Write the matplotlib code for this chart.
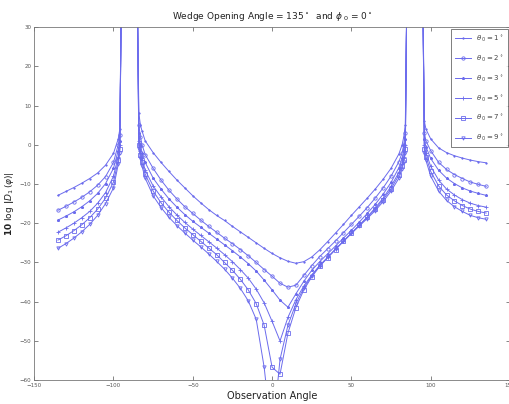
import numpy as np
import matplotlib
matplotlib.use("Agg")
import matplotlib.pyplot as plt

# observation angles (deg) for the three branches; +/-85 and +/-95 are the singular points
x_left = [-135, -130, -125, -120, -115, -110, -105, -100, -97, -96, -95]
x_mid = [-85, -84, -83, -82, -80, -75, -70, -65, -60, -55, -50, -45, -40, -35, -30, -25,
         -20, -15, -10, -5, 0, 5, 10, 15, 20, 25, 30, 35, 40, 45, 50, 55, 60, 65, 70,
         75, 80, 82, 83, 84, 85]
x_right = [95, 96, 97, 100, 105, 110, 115, 120, 125, 130, 135]

theta0 = [1, 2, 3, 5, 7, 9]
markers = ['.', 'o', '*', '+', 's', 'v']

left_vals = {
    1: [-12.9, -11.9, -10.9, -9.8, -8.6, -7.2, -5.2, -2.2, 1.5, 4, 40],
    2: [-16.7, -15.7, -14.6, -13.4, -12, -10.3, -8.1, -4.5, 0, 2.5, 40],
    3: [-19.2, -18.2, -17.1, -15.8, -14.3, -12.4, -9.9, -6, -1.5, 1, 40],
    5: [-22.3, -21.2, -20, -18.6, -17, -14.9, -12.2, -8, -3, 0, 40],
    7: [-24.3, -23.2, -21.9, -20.4, -18.6, -16.4, -13.6, -9.5, -4, -1, 40],
    9: [-26.4, -25.2, -23.8, -22.2, -20.3, -18, -15, -11, -5, -2, 40],
}

mid_vals = {
    1: [40, 8, 5, 3.5, 1, -2, -4.5, -6.8, -9, -11, -13, -14.8, -16.5, -18, -19.3, -20.8,
        -22.2, -23.6, -25, -26.4, -27.7, -28.8, -29.7, -30.2, -29.8, -28.6, -26.8, -24.7,
        -22.5, -20.3, -18, -15.8, -13.6, -11.3, -8.8, -6, -2.3, 0, 2, 5, 40],
    2: [40, 5, 2, 0, -2.5, -6, -9, -11.6, -13.8, -15.8, -17.5, -19.2, -20.8, -22.3, -23.8,
        -25.2, -26.7, -28.3, -30, -31.8, -33.5, -35.3, -36.3, -35.8, -33.3, -30.8, -28.5,
        -26.5, -24.5, -22.4, -20.3, -18.2, -16, -13.6, -11, -8, -4.3, -2, 0, 3, 40],
    3: [40, 3, 0, -2, -4.5, -8.5, -11.3, -13.8, -15.9, -17.8, -19.5, -21, -22.5, -24, -25.5,
        -27, -28.6, -30.3, -32.2, -34.5, -37, -39.6, -41.4, -38, -34.8, -32, -29.8, -27.8,
        -25.8, -23.8, -21.8, -19.7, -17.5, -15.2, -12.6, -9.6, -5.8, -3.5, -1.5, 1.5, 40],
    5: [40, 1, -1.5, -3.5, -6.5, -10.5, -13.3, -15.8, -17.9, -19.8, -21.5, -23.1, -24.7,
        -26.3, -28, -29.8, -31.8, -34, -36.8, -40.3, -45, -50, -44, -39.5, -36, -33.2, -30.8,
        -28.7, -26.6, -24.6, -22.6, -20.5, -18.4, -16.1, -13.6, -10.6, -7, -4.8, -3, 0, 40],
    7: [40, 0, -2.5, -4.5, -7.5, -11.8, -14.8, -17.2, -19.3, -21.2, -22.9, -24.6, -26.3, -28,
        -30, -32, -34.3, -37, -40.5, -46, -56.7, -58.5, -48, -41.5, -37, -33.7, -31, -28.8,
        -26.7, -24.6, -22.5, -20.5, -18.5, -16.4, -14, -11.2, -7.7, -5.5, -3.8, -1, 40],
    9: [40, -1, -3.5, -5.5, -8.5, -13, -16, -18.5, -20.6, -22.5, -24.3, -26, -27.8, -29.7,
        -31.7, -34, -36.6, -39.8, -44.5, -56.7, -75, -54.7, -46, -40.5, -36.5, -33.4, -30.8,
        -28.7, -26.6, -24.6, -22.6, -20.7, -18.8, -16.8, -14.5, -11.8, -8.5, -6.2, -4.5, -2, 40],
}

right_vals = {
    1: [40, 6, 4, 1.5, -0.8, -2, -2.8, -3.4, -3.9, -4.3, -4.6],
    2: [40, 3, 1, -1.5, -4.5, -6.3, -7.6, -8.6, -9.5, -10.1, -10.6],
    3: [40, 1.5, -0.5, -3.5, -6.5, -8.5, -9.9, -11, -11.8, -12.4, -12.9],
    5: [40, 0, -2, -5.5, -9, -11.3, -12.8, -14, -14.9, -15.5, -15.9],
    7: [40, -1, -3, -6.8, -10.5, -12.8, -14.3, -15.5, -16.4, -17, -17.4],
    9: [40, -2, -4, -8, -11.8, -14.2, -15.8, -17, -18, -18.6, -19],
}

color = (0.42, 0.42, 0.93)

fig = plt.figure(figsize=(5.1, 4.04), dpi=100)
ax = fig.add_axes([0.067, 0.059, 0.933, 0.874])

for t, m in zip(theta0, markers):
    kw = dict(color=color, lw=0.7, marker=m, ms=2.4, mew=0.6, mfc='none')
    if m in ('.', '*'):
        kw['mfc'] = color
        kw['ms'] = 2.0
    xs = x_left + [np.nan] + x_mid + [np.nan] + x_right
    ys = left_vals[t] + [np.nan] + mid_vals[t] + [np.nan] + right_vals[t]
    ax.plot(xs, ys, label=r'$\theta_{\ 0} = %d^\circ$' % t, **kw)

ax.set_xlim(-150, 150)
ax.set_ylim(-60, 30)
ax.set_xticks(np.arange(-150, 151, 50))
ax.set_yticks(np.arange(-60, 31, 10))
ax.tick_params(direction='in', length=3, width=0.5, labelsize=4, colors='#555555',
               top=True, right=True, pad=2)
for s in ax.spines.values():
    s.set_color('#777777')
    s.set_linewidth(0.6)

ax.set_title(r'Wedge Opening Angle = 135$^\circ$  and $\phi_{\ 0}$ = 0$^\circ$',
             fontsize=6.5, color='#222222', pad=6)
ax.set_xlabel('Observation Angle', fontsize=7, color='#222222', labelpad=2)
ax.set_ylabel(r'$\mathbf{10\ \log\,|}D_1\,(\varphi)|$', fontsize=6.5, color='#222222',
              family='serif', labelpad=3)

leg = ax.legend(loc='upper right', fontsize=5, frameon=True, fancybox=False,
                borderpad=0.6, labelspacing=1.3, handlelength=2.2, borderaxespad=0.3)
leg.get_frame().set_edgecolor('#444444')
leg.get_frame().set_linewidth(0.6)
for txt in leg.get_texts():
    txt.set_color('#444444')

fig.savefig('out.png', dpi=100)
